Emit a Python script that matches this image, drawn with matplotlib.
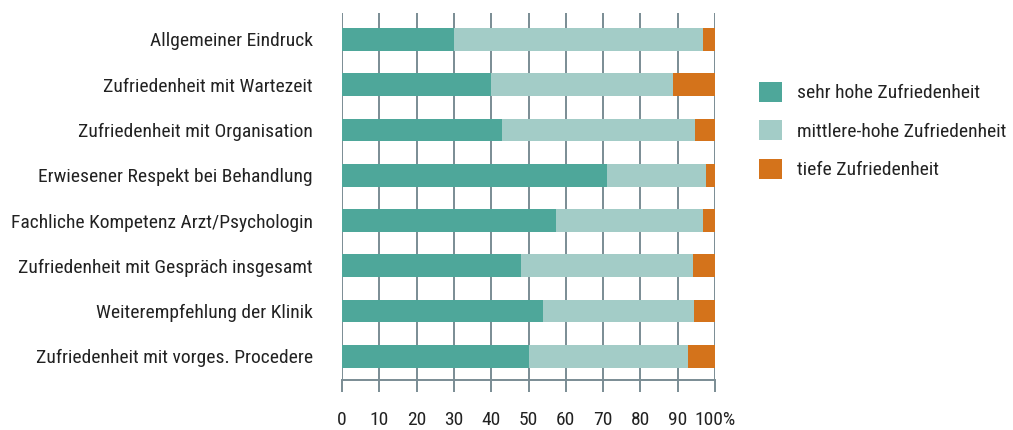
import matplotlib
matplotlib.use("Agg")
import matplotlib.pyplot as plt
from matplotlib.patches import Patch
import numpy as np

plt.rcParams['font.family'] = ['Liberation Sans Narrow', 'Roboto Condensed', 'Liberation Sans', 'DejaVu Sans']

# Kategorien (oben nach unten)
categories = [
    "Allgemeiner Eindruck",
    "Zufriedenheit mit Wartezeit",
    "Zufriedenheit mit Organisation",
    "Erwiesener Respekt bei Behandlung",
    "Fachliche Kompetenz Arzt/Psychologin",
    "Zufriedenheit mit Gespräch insgesamt",
    "Weiterempfehlung der Klinik",
    "Zufriedenheit mit vorges. Procedere",
]

# Anteile in %
sehr_hoch = [30.0, 40.0, 42.9, 71.0, 57.4, 48.0, 53.9, 50.2]
mittel_hoch = [66.8, 48.7, 51.7, 26.6, 39.4, 46.1, 40.4, 42.6]
tief = [3.2, 11.3, 5.4, 2.4, 3.2, 5.9, 5.7, 7.2]

series_labels = ["sehr hohe Zufriedenheit", "mittlere-hohe Zufriedenheit", "tiefe Zufriedenheit"]
colors = ["#4ea79a", "#a3ccc7", "#d4731b"]

xticks = [0, 10, 20, 30, 40, 50, 60, 70, 80, 90, 100]
xticklabels = ["0", "10", "20", "30", "40", "50", "60", "70", "80", "90", "100%"]

grid_col = "#7a8c94"
text_col = "#222222"
fs = 14

fig = plt.figure(figsize=(10.13, 4.30), dpi=100)
ax = fig.add_axes([342 / 1013, 1 - 380 / 430, 373 / 1013, 367 / 430])

y = np.arange(len(categories))
left = np.zeros(len(categories))
for vals, col in zip([sehr_hoch, mittel_hoch, tief], colors):
    ax.barh(y, vals, left=left, height=0.5, color=col, zorder=3)
    left = left + np.array(vals)

ax.set_xlim(0, 100)
ax.set_ylim(7.52, -0.58)
ax.set_xticks(xticks)
ax.set_xticklabels(xticklabels, fontsize=fs, color=text_col)
ax.set_yticks(y)
ax.set_yticklabels(categories, fontsize=fs, color=text_col)

ax.grid(axis='x', color=grid_col, linewidth=1.4, zorder=0)
ax.set_axisbelow(True)
ax.tick_params(axis='y', length=0, pad=21)
ax.tick_params(axis='x', length=8.6, width=1.4, color=grid_col, pad=14)

for s in ['top', 'right', 'left']:
    ax.spines[s].set_visible(False)
ax.spines['bottom'].set_color(grid_col)
ax.spines['bottom'].set_linewidth(1.4)

handles = [Patch(facecolor=c, edgecolor='none') for c in colors]
fig.legend(handles, series_labels, loc='upper left',
           bbox_to_anchor=(759 / 1013, 1 - 82 / 430), frameon=False,
           fontsize=fs, handlelength=1.18, handleheight=1.18,
           handletextpad=0.77, labelspacing=0.93, borderpad=0,
           borderaxespad=0, labelcolor=text_col)

fig.savefig("out.png", dpi=100)
